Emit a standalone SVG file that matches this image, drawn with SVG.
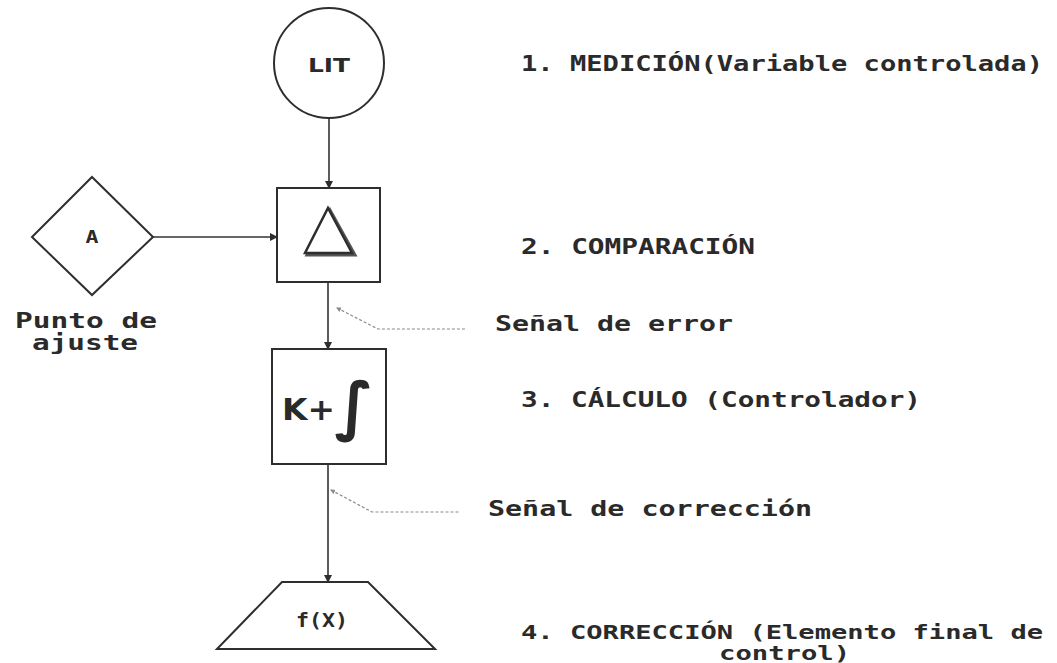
<svg xmlns="http://www.w3.org/2000/svg" width="1057" height="663" viewBox="0 0 1057 663">
  <style>
    .shape { fill: #ffffff; stroke: #2e2e2e; stroke-width: 2; }
    .conn { fill: none; stroke: #333333; stroke-width: 1.6; }
    .leader { fill: none; stroke: #8a8a8a; stroke-width: 1.2; stroke-dasharray: 3 2; }
    .mono { font-family: "DejaVu Sans Mono", "Liberation Mono", monospace; font-weight: bold; fill: #2a2a2a; }
    .sans { font-family: "DejaVu Sans", "Liberation Sans", sans-serif; font-weight: bold; fill: #2a2a2a; }
  </style>
  <defs>
    <marker id="arr" markerWidth="8" markerHeight="8" refX="7" refY="4" orient="auto" markerUnits="userSpaceOnUse">
      <path d="M0,0 L8,4 L0,8 Z" fill="#2e2e2e"/>
    </marker>
    <marker id="tiny" markerWidth="5" markerHeight="5" refX="1" refY="2.5" orient="auto" markerUnits="userSpaceOnUse">
      <path d="M5,0 L0,2.5 L5,5 Z" fill="#8a8a8a"/>
    </marker>
  </defs>
  <rect width="1057" height="663" fill="#ffffff"/>

  <g id="connectors">
    <line class="conn" x1="329" y1="118" x2="329" y2="188" marker-end="url(#arr)"/>
    <line class="conn" x1="153" y1="237" x2="277" y2="237" marker-end="url(#arr)"/>
    <line class="conn" x1="328" y1="282" x2="328" y2="349" marker-end="url(#arr)"/>
    <line class="conn" x1="328" y1="464" x2="328" y2="582" marker-end="url(#arr)"/>
    <polyline class="leader" points="337,308 378,329 467,329" marker-start="url(#tiny)"/>
    <polyline class="leader" points="331,490 372,512 460,512" marker-start="url(#tiny)"/>
  </g>

  <g id="node-lit">
    <circle class="shape" cx="329" cy="63" r="55"/>
    <text class="sans" x="329" y="72" font-size="20" text-anchor="middle" textLength="42" lengthAdjust="spacingAndGlyphs">LIT</text>
  </g>

  <g id="node-setpoint">
    <polygon class="shape" points="92,177 153,237 92,295 32,237"/>
    <text class="mono" x="92" y="243" font-size="18" text-anchor="middle" textLength="13" lengthAdjust="spacingAndGlyphs">A</text>
  </g>

  <g id="node-compare">
    <rect class="shape" x="277" y="188" width="103" height="94"/>
    <polygon points="330,210 355,255 307,255" fill="none" stroke="#555555" stroke-width="3"/>
    <polygon points="328,208 352,253 305,253" fill="#ffffff" stroke="#2e2e2e" stroke-width="2.5" stroke-linejoin="miter"/>
  </g>

  <g id="node-controller">
    <rect class="shape" x="272" y="349" width="114" height="115"/>
    <text class="sans" x="282" y="420" font-size="30" textLength="53" lengthAdjust="spacingAndGlyphs">K+</text>
    <text font-family="DejaVu Sans, sans-serif" font-weight="bold" fill="#2a2a2a" x="354" y="428" font-size="64" text-anchor="middle">∫</text>
  </g>

  <g id="node-final">
    <polygon class="shape" points="282,582 368,582 435,649 217,649"/>
    <text class="mono" x="322" y="627" font-size="19" text-anchor="middle" textLength="52" lengthAdjust="spacingAndGlyphs">f(X)</text>
  </g>

  <g id="labels">
    <text class="mono" x="86" y="328" font-size="21" text-anchor="middle" textLength="142" lengthAdjust="spacingAndGlyphs">Punto de</text>
    <text class="mono" x="85" y="350" font-size="21" text-anchor="middle" textLength="106" lengthAdjust="spacingAndGlyphs">ajuste</text>

    <text class="mono" x="521" y="71" font-size="21" textLength="522" lengthAdjust="spacingAndGlyphs">1. MEDICIÓN(Variable controlada)</text>
    <text class="mono" x="521" y="254" font-size="21" textLength="234" lengthAdjust="spacingAndGlyphs">2. COMPARACIÓN</text>
    <text class="mono" x="495" y="331" font-size="21" textLength="238" lengthAdjust="spacingAndGlyphs">Señal de error</text>
    <text class="mono" x="521" y="407" font-size="21" textLength="400" lengthAdjust="spacingAndGlyphs">3. CÁLCULO (Controlador)</text>
    <text class="mono" x="488" y="516" font-size="21" textLength="324" lengthAdjust="spacingAndGlyphs">Señal de corrección</text>
    <text class="mono" x="521" y="639" font-size="20" textLength="522" lengthAdjust="spacingAndGlyphs">4. CORRECCIÓN (Elemento final de</text>
    <text class="mono" x="719" y="660" font-size="20" textLength="131" lengthAdjust="spacingAndGlyphs">control)</text>
  </g>
</svg>
